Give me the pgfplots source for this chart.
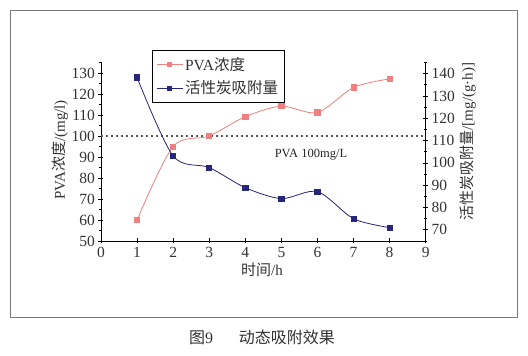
\documentclass[border=0pt]{standalone}
\usepackage{pgfplots}
\pgfplotsset{compat=1.18}
\usepackage{fontspec}
\setmainfont{Liberation Serif}
\newfontfamily\cjk{Noto Sans CJK SC}
\definecolor{pvapink}{RGB}{238,128,128}
\definecolor{adsnavy}{RGB}{38,38,122}
\definecolor{framegray}{RGB}{120,120,120}
\begin{document}
\begin{tikzpicture}[x=1pt,y=1pt]
\path[use as bounding box, fill=white] (0,0) rectangle (528,356);
\draw[framegray, line width=1pt] (10,345) rectangle (517,38);
\node[font=\fontsize{16}{16}\selectfont, text=black!80] at (262,19) {{\cjk 图}9\hspace{1.6em}{\cjk 动态吸附效果}};
\pgfplotsset{
  common/.style={
    scale only axis, width=324.7pt, height=178.5pt,
    at={(101pt,115pt)}, anchor=south west,
    xmin=0, xmax=9,
    /pgf/number format/assume math mode=true,
    tick label style={font=\fontsize{15.5}{15.5}\selectfont, text=black!80},
    label style={font=\fontsize{15}{15}\selectfont, text=black!80},
    tick align=center, major tick length=5pt, minor tick length=3pt,
    axis line style={black, line width=0.8pt},
    every tick/.style={black, line width=0.7pt},
  }
}
\begin{axis}[common,
  axis y line*=left, axis x line*=bottom,
  ymin=50, ymax=135,
  xtick={0,1,...,9},
  ytick={50,60,...,130}, minor ytick={55,65,...,135},
  xlabel={{\cjk 时间}/h},
  xlabel style={at={(axis description cs:0.496,-0.162)}, anchor=center},
  ylabel={PVA{\cjk 浓度}/(mg/l)},
  ylabel style={at={(axis description cs:-0.126,0.51)}, anchor=center, rotate=0},
  clip=false,
]
\addplot[dash pattern=on 1.8pt off 3.2pt, line width=1.1pt, black!65] coordinates {(0,100) (9,100)};
\addplot[pvapink, line width=0.8pt, smooth, mark=square*, mark size=2.6pt, mark options={solid, fill=pvapink}]
  coordinates {(1,60) (2,95) (3,100) (4,109.2) (5,114.2) (6,111.2) (7,123.1) (8,127.2)};
\node[font=\fontsize{12.5}{12.5}\selectfont, text=black!85] at (axis cs:5.82,91) {PVA 100mg/L};
\end{axis}
\begin{axis}[common,
  axis y line*=right, axis x line=none,
  ymin=65, ymax=145,
  ytick={70,80,...,140}, minor ytick={65,75,...,145},
  ylabel={{\cjk 活性炭吸附量}/[mg/(g·h)]},
  ylabel style={at={(axis description cs:1.130,0.557)}, anchor=center, rotate=0},
  legend style={at={(0.157,1.07)}, anchor=north west, draw=black, line width=0.6pt,
    font=\fontsize{15.5}{15.5}\selectfont, text=black!80, row sep=5pt, inner xsep=4pt, inner ysep=5pt},
  legend cell align=left,
  legend image code/.code={\draw[mark repeat=2,mark phase=2,#1,mark size=1.8pt] plot coordinates {(0pt,0pt) (13pt,0pt) (26pt,0pt)};},
  clip=false,
]
\addlegendimage{pvapink, line width=0.8pt, mark=square*, mark options={fill=pvapink}}
\addlegendentry{PVA{\cjk 浓度}}
\addplot[adsnavy, line width=0.8pt, smooth, mark=square*, mark size=2.6pt, mark options={solid, fill=adsnavy}]
  coordinates {(1,138.3) (2,103.1) (3,97.9) (4,88.9) (5,84.0) (6,87.1) (7,75.0) (8,71.0)};
\addlegendentry{{\cjk 活性炭吸附量}}
\end{axis}
\end{tikzpicture}
\end{document}
